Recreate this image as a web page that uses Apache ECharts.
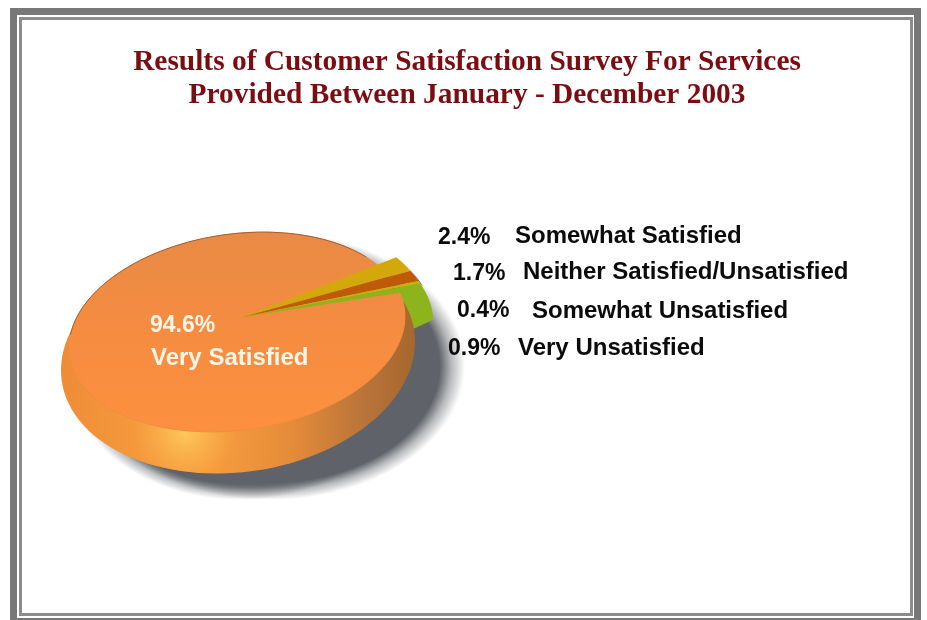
<!DOCTYPE html>
<html><head><meta charset="utf-8">
<style>html,body{margin:0;padding:0;background:#fff}#c{width:927px;height:620px}</style>
<script src="https://cdn.jsdelivr.net/npm/echarts@6/dist/echarts.min.js"></script>
</head><body><div id="c"></div>
<script>
const titleLines = ['Results of Customer Satisfaction Survey For Services','Provided Between January - December 2003'];
const categories = ['Very Satisfied','Somewhat Satisfied','Neither Satisfied/Unsatisfied','Somewhat Unsatisfied','Very Unsatisfied'];
const values = [94.6,2.4,1.7,0.4,0.9];
const sliceColors = ['#f68c3f','#d3a80d','#bf5a08','#c9b20f','#8db41a'];

// layout
const startDeg = 35;
const apex = [243,317];
const wedge = {rx:187, ry:104};
const face = {cx:237, cy:332, rx:169, ry:98, rot:8};
const body = {cx:238, cy:356, rx:178, ry:116, rot:8};
const pctPos = [[150,326],[438,238],[453,274],[457,311],[448,349]];
const namePos = [[151,358],[515,236],[523,272],[532,311],[518,348]];

const rad = d => d*Math.PI/180;
function ellPt(e,deg){
  const a=rad(deg), t=rad(e.rot), u=e.rx*Math.cos(a), v=e.ry*Math.sin(a);
  return [e.cx+u*Math.cos(t)-v*Math.sin(t), e.cy-u*Math.sin(t)-v*Math.cos(t)];
}
function ellipse(e){const p=[];for(let d=0;d<360;d+=3)p.push(ellPt(e,d));return p;}
function arcOnEllipse(e,a,b){const p=[];const n=Math.max(4,Math.ceil(Math.abs(b-a)/2));for(let i=0;i<=n;i++)p.push(ellPt(e,a+(b-a)*i/n));return p;}
function wedgePt(deg,sc){sc=sc||1;const a=rad(deg);return [apex[0]+sc*wedge.rx*Math.cos(a),apex[1]-sc*wedge.ry*Math.sin(a)];}
function rayToFace(deg){
  const a=rad(deg),dx=wedge.rx*Math.cos(a),dy=-wedge.ry*Math.sin(a),t=rad(face.rot);
  const c=Math.cos(t),s=Math.sin(t);
  const ox=apex[0]-face.cx,oy=apex[1]-face.cy;
  const lx=(ox*c-oy*s)/face.rx,ly=(-ox*s-oy*c)/face.ry;
  const mx=(dx*c-dy*s)/face.rx,my=(-dx*s-dy*c)/face.ry;
  const A=mx*mx+my*my,B=2*(lx*mx+ly*my),C=lx*lx+ly*ly-1;
  const k=(-B+Math.sqrt(B*B-4*A*C))/(2*A);
  return [apex[0]+k*dx,apex[1]+k*dy];
}
function sliceAngles(){
  const r={};let cur=startDeg;
  for(let i=1;i<values.length;i++){r[i]=[cur,cur-values[i]*3.6];cur-=values[i]*3.6;}
  r[0]=[cur,cur-values[0]*3.6];
  return r;
}
const angles=sliceAngles();
const gx=(x0,x1,stops)=>({type:'linear',global:true,x:x0,y:0,x2:x1,y2:0,colorStops:stops});
const shadowFill={type:'radial',x:.5,y:.5,r:.5,colorStops:[{offset:0,color:'#5f6268'},{offset:.87,color:'#5f6268'},{offset:.93,color:'rgba(95,98,104,.45)'},{offset:1,color:'rgba(95,98,104,0)'}]};

function renderPie(params,api){
  const i=api.value(0);
  const [a0,a1]=angles[i];
  const kids=[];
  if(i===0){
    kids.push({type:'circle',x:240,y:375,scaleX:1.7,scaleY:1.25,shape:{cx:0,cy:0,r:100},style:{fill:shadowFill}});
    kids.push({type:'circle',x:270,y:366,scaleX:1.95,scaleY:1.34,shape:{cx:0,cy:0,r:100},style:{fill:shadowFill}});
    const wall=arcOnEllipse({cx:243,cy:320,rx:190,ry:100,rot:0},24,0);
    wall.push([413,329],[392,292]);
    kids.push({type:'polygon',shape:{points:wall},style:{fill:sliceColors[4]}});
    kids.push({type:'polygon',shape:{points:ellipse(body)},
      style:{fill:gx(60,416,[{offset:0,color:'#ee8a36'},{offset:.4,color:'#f59238'},{offset:.66,color:'#e08638'},{offset:.86,color:'#b9733a'},{offset:1,color:'#a5672c'}])}});
    kids.push({type:'polygon',shape:{points:ellipse(body)},
      style:{fill:{type:'radial',global:true,x:185,y:432,r:170,colorStops:[{offset:0,color:'rgba(255,208,96,.9)'},{offset:.12,color:'rgba(255,200,90,.6)'},{offset:.3,color:'rgba(255,190,80,.22)'},{offset:.7,color:'rgba(255,180,70,.08)'},{offset:1,color:'rgba(255,180,70,0)'}]}}});
    const pts=[apex];const n=170;
    for(let k=0;k<=n;k++)pts.push(rayToFace(a0+(a1-a0)*k/n));
    kids.push({type:'polygon',shape:{points:pts},
      style:{fill:{type:'linear',global:true,x:0,y:232,x2:0,y2:432,colorStops:[{offset:0,color:'#e98a45'},{offset:.5,color:'#f58c40'},{offset:1,color:'#fd9040'}]},stroke:'#f48c40',lineWidth:1}});
    kids.push({type:'polyline',shape:{points:arcOnEllipse(face,35,168)},style:{stroke:'#86583a',lineWidth:1,fill:null,opacity:.8}});
  } else {
    const arc=[];const n=6;
    for(let k=0;k<=n;k++)arc.push(wedgePt(a0+(a1-a0)*k/n));
    if(i<4){
      const rim=arc.map(p=>[p[0]+3,p[1]+3]);
      kids.push({type:'polygon',shape:{points:arc.concat(rim.reverse())},style:{fill:i===2?'#7c3a0c':'#77700f'}});
    }
    kids.push({type:'polygon',shape:{points:[apex].concat(arc)},style:{fill:sliceColors[i]}});
  }
  return {type:'group',children:kids};
}
function renderText(params,api){
  const i=api.value(0);
  const white=i===0;
  const pf='bold 23px "Liberation Sans", Arial, sans-serif';
  const nf='bold 24px "Liberation Sans", Arial, sans-serif';
  return {type:'group',children:[
    {type:'text',x:pctPos[i][0],y:pctPos[i][1],style:{text:values[i].toFixed(1)+'%',font:pf,fill:white?'#fff6e8':'#0b0b0b',textAlign:'left',textVerticalAlign:'middle'}},
    {type:'text',x:namePos[i][0],y:namePos[i][1],style:{text:categories[i],font:nf,fill:white?'#fff6e8':'#0b0b0b',textAlign:'left',textVerticalAlign:'middle'}}
  ]};
}
const chart=echarts.init(document.getElementById('c'),null,{renderer:'canvas'});
const rows=values.map((v,i)=>[i,v]);
chart.setOption({
  animation:false,
  backgroundColor:'#fff',
  title:{text:titleLines.join('\n'),left:462,top:41,textAlign:'center',
    textStyle:{fontFamily:'"Liberation Serif","Times New Roman",serif',fontWeight:'bold',fontSize:29.4,lineHeight:33,color:'#7b0d12'}},
  graphic:[
    {type:'rect',silent:true,z:0,shape:{x:13.5,y:11.5,width:904,height:610},style:{fill:'none',stroke:'#787878',lineWidth:7}},
    {type:'rect',silent:true,z:0,shape:{x:20.5,y:18.5,width:891,height:596},style:{fill:'none',stroke:'#8c8c8c',lineWidth:3}}
  ],
  series:[
    {type:'custom',coordinateSystem:'none',name:'slices',silent:true,z:2,data:rows,renderItem:renderPie},
    {type:'custom',coordinateSystem:'none',name:'labels',silent:true,z:3,data:rows,renderItem:renderText}
  ]
});
</script></body></html>
